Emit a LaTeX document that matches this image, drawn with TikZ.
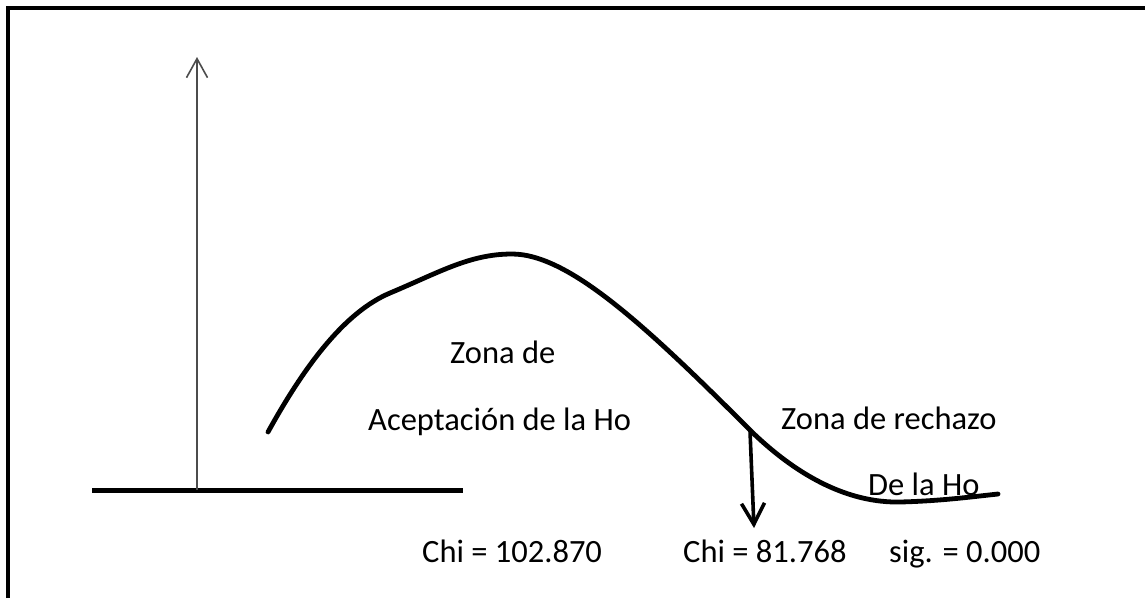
\documentclass[tikz,border=0pt]{standalone}
\usepackage{fontspec}
\setmainfont{Carlito}
\usetikzlibrary{arrows.meta}
\begin{document}
\begin{tikzpicture}[x=1pt,y=-1pt,
  lbl/.style={anchor=base west,inner sep=0pt,font=\fontsize{32.5}{38}\selectfont},
  curve/.style={line width=4.8pt,line cap=round,line join=round},
  axis/.style={line width=5pt},
  frame/.style={line width=3.2pt}]
\useasboundingbox (0,0) rectangle (1145,598);
\fill[white] (0,0) rectangle (1145,598);
% frame (only top and left edges visible)
\draw[frame] (8,598) -- (8,8) -- (1145,8);
% axes
\coordinate (base0) at (92,490.5);
\coordinate (base1) at (463,490.5);
\coordinate (ybot) at (197,490);
\coordinate (ytop) at (197,57);
\draw[axis] (base0) -- (base1);
\draw[line width=1.6pt,black!70,-{Straight Barb[length=19pt,width=21pt,line width=1.6pt]}] (ybot) -- (ytop);
% curve
\coordinate (c0) at (268,432);
\coordinate (c1) at (390,293);
\coordinate (peak) at (512,254);
\coordinate (c3) at (753,433);
\coordinate (c4) at (900,502);
\coordinate (c5) at (998,494);
\draw[curve] (c0) .. controls (305,365) and (345,312) .. (c1)
  .. controls (440,272) and (470,254) .. (peak)
  .. controls (570,254) and (650,330) .. (c3)
  .. controls (800,478) and (850,503) .. (c4)
  .. controls (940,501) and (970,497) .. (c5);
% critical arrow
\coordinate (cstart) at (750,431);
\coordinate (cend) at (754,528);
\draw[line width=3.6pt,-{Straight Barb[length=21pt,width=23pt,line width=3.6pt]}] (cstart) -- (cend);
% labels
\node[lbl] (z1) at (450,363) {Zona de};
\node[lbl] (z2) at (368,430) {Aceptación de la Ho};
\node[lbl] (r1) at (781,429) {Zona de rechazo};
\node[lbl] (r2) at (868,495) {De la Ho};
\node[lbl] (c1t) at (422,562) {Chi = 102.870};
\node[lbl] (c2t) at (683,562) {Chi = 81.768};
\node[lbl] (s1) at (889,562) {sig. = 0.000};
\end{tikzpicture}
\end{document}
